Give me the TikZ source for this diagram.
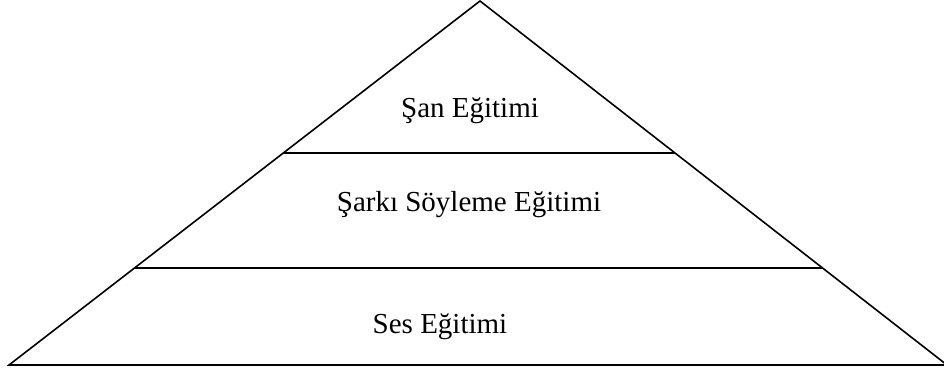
\documentclass[tikz,border=0pt]{standalone}
\usepackage{fontspec}
\setmainfont{Liberation Serif}
\usetikzlibrary{calc}
\begin{document}
\begin{tikzpicture}[x=1pt,y=-1pt,
  edge/.style={line width=1.6pt,line join=miter},
  label/.style={font=\fontsize{29}{34}\selectfont,inner sep=0pt,anchor=base}]
\useasboundingbox (0,0) rectangle (944,370);
\coordinate (A) at (480,1);
\coordinate (L) at (9,365);
\coordinate (R) at (947,365);
\draw[edge] (L) -- (A) -- (R) -- cycle;
\coordinate (u1) at ($(L)!0.5824!(A)$);
\coordinate (u2) at ($(R)!0.5824!(A)$);
\coordinate (m1) at ($(L)!0.2665!(A)$);
\coordinate (m2) at ($(R)!0.2665!(A)$);
\draw[edge] (u1) -- (u2);
\draw[edge] (m1) -- (m2);
\node[label] (top) at (470,117) {Şan Eğitimi};
\node[label] (mid) at (469,211) {Şarkı Söyleme Eğitimi};
\node[label] (bot) at (440,333) {Ses Eğitimi};
\end{tikzpicture}
\end{document}
